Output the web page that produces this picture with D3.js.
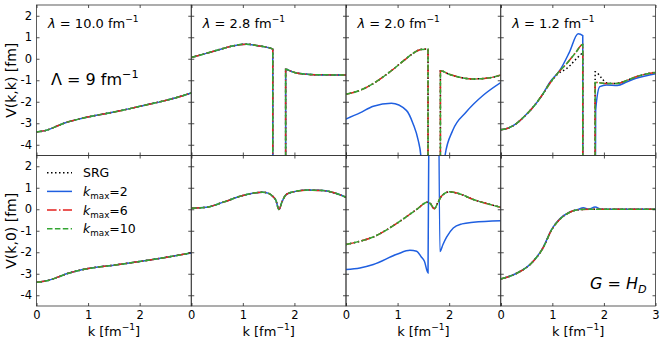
<!DOCTYPE html>
<html>
<head>
<meta charset="utf-8">
<script src="https://cdn.jsdelivr.net/npm/d3@7"></script>
<style>
  body { margin: 0; background: #fff; }
  svg text { font-family: "DejaVu Sans", sans-serif; fill: #000; }
</style>
</head>
<body>
<svg id="drawing_region"></svg>
<script>
// ---- data ----
const lambdaLabels = ['10.0', '2.8', '2.0', '1.2'];
const yTicks = [-4, -3, -2, -1, 0, 1, 2];
const xTicks = [0, 1, 2, 3];
const rowLabels = ['V(k,k) [fm]', 'V(k,0) [fm]'];
const legendKeys = ['srg', 'k2', 'k6', 'k10'];
const legendText = ['SRG', '2', '6', '10'];

// top row: diagonal V(k,k)
const vkk_l10 = [[0,-3.41],[0.2,-3.32],[0.36,-3.17],[0.52,-3.01],[0.8,-2.82],[1.16,-2.63],[1.5,-2.48],[1.81,-2.32],[2.1,-2.16],[2.45,-1.97],[2.75,-1.78],[3,-1.59]];

const vkk_l28_a = [[0,0.06],[0.29,0.25],[0.62,0.48],[0.85,0.62],[1.07,0.68],[1.26,0.62],[1.45,0.54],[1.58,0.45],[1.58,-9]];
const vkk_l28_b = [[1.83,-9],[1.83,-0.49],[1.95,-0.6],[2.1,-0.69],[2.4,-0.74],[2.7,-0.75],[3,-0.75]];

const vkk_l20_a = [[0,-1.65],[0.27,-1.47],[0.53,-1.15],[0.85,-0.61],[1.17,0.01],[1.3,0.25],[1.45,0.43],[1.59,0.45],[1.59,-9]];
const vkk_l20_b = [[1.83,-9],[1.83,-0.56],[2.0,-0.72],[2.2,-0.86],[2.46,-0.94],[2.75,-0.9],[3,-0.76]];
const vkk_l20_k2_a = [[0,-2.8],[0.27,-2.52],[0.53,-2.21],[0.88,-2.07],[1.17,-2.4],[1.3,-3.02],[1.4,-3.8],[1.45,-4.5],[1.5,-9]];
const vkk_l20_k2_b = [[1.88,-9],[1.92,-4.5],[2.07,-3.33],[2.33,-2.48],[2.66,-1.7],[3,-1.11]];

const vkk_l12_a = [[0,-3.3],[0.15,-3.22],[0.3,-3.02],[0.45,-2.7],[0.63,-2.24],[0.8,-1.7],[0.95,-1.15],[1.1,-0.68],[1.28,-0.22],[1.45,0.28],[1.59,0.66],[1.59,-9]];
const vkk_l12_b = [[1.83,-9],[1.83,-1.1],[2.05,-1.15],[2.26,-1.15],[2.45,-1.0],[2.61,-0.85],[2.8,-0.72],[3,-0.64]];
const vkk_l12_srg_a = [[0,-3.3],[0.15,-3.22],[0.3,-3.02],[0.45,-2.7],[0.63,-2.24],[0.8,-1.7],[0.95,-1.15],[1.1,-0.72],[1.28,-0.45],[1.35,-0.3],[1.5,0.08],[1.59,0.25],[1.59,-9]];
const vkk_l12_srg_b = [[1.83,-9],[1.83,-0.6],[1.95,-0.88],[2.05,-1.12],[2.2,-1.15],[2.45,-1.0],[2.61,-0.85],[2.8,-0.72],[3,-0.63]];
const vkk_l12_k2_a = [[0,-3.3],[0.15,-3.22],[0.3,-3.02],[0.45,-2.7],[0.63,-2.24],[0.8,-1.7],[0.95,-1.1],[1.15,-0.52],[1.33,0.3],[1.5,1.16],[1.59,1.08],[1.59,-9]];
const vkk_l12_k2_b = [[1.83,-9],[1.84,-2.4],[1.92,-1.3],[2.05,-1.22],[2.26,-1.24],[2.45,-1.07],[2.61,-0.92],[2.8,-0.8],[3,-0.7]];

// bottom row: half off-diagonal V(k,0)
const vk0_l10 = [[0,-3.39],[0.2,-3.33],[0.4,-3.17],[0.6,-2.99],[0.8,-2.86],[1.0,-2.76],[1.5,-2.6],[2.0,-2.43],[2.5,-2.24],[3,-2.03]];

const vk0_l28 = [[0,0.05],[0.29,0.09],[0.62,0.33],[1.0,0.64],[1.39,0.79],[1.5,0.74],[1.58,0.6],[1.64,0.42],[1.7,-0.01],[1.76,0.35],[1.84,0.68],[2.0,0.82],[2.26,0.89],[2.55,0.87],[2.8,0.74],[3,0.56]];

const vk0_l20 = [[0,-1.64],[0.2,-1.53],[0.53,-1.29],[1.0,-0.63],[1.37,-0.01],[1.58,0.33],[1.64,0.25],[1.71,0.02],[1.78,0.3],[1.85,0.6],[2.0,0.81],[2.2,0.72],[2.47,0.45],[2.75,0.25],[3,0.09]];
const vk0_l20_k2_a = [[0,-2.8],[0.27,-2.73],[0.53,-2.57],[1.0,-2.08],[1.24,-1.91],[1.37,-1.95],[1.46,-2.22],[1.52,-2.42],[1.59,-2.96],[1.62,9]];
const vk0_l20_k2_b = [[1.79,9],[1.82,-1.97],[1.88,-1.64],[1.95,-1.3],[2.08,-0.87],[2.25,-0.68],[2.47,-0.6],[3,-0.53]];

const vk0_l12 = [[0,-3.24],[0.3,-2.99],[0.63,-2.42],[0.82,-1.8],[0.99,-0.94],[1.14,-0.48],[1.34,-0.14],[1.5,-0.02],[1.8,0],[3,0]];
const vk0_l12_k2 = [[0,-3.24],[0.3,-2.99],[0.63,-2.42],[0.82,-1.78],[0.99,-0.92],[1.14,-0.46],[1.34,-0.13],[1.5,-0.01],[1.6,0.07],[1.7,0.0],[1.83,0.1],[1.95,0.0],[3,0]];

const panels = [
  { row:0, col:0, srg:[vkk_l10], k2:[vkk_l10], k6:[vkk_l10], k10:[vkk_l10] },
  { row:0, col:1, srg:[vkk_l28_a, vkk_l28_b], k2:[vkk_l28_a, vkk_l28_b], k6:[vkk_l28_a, vkk_l28_b], k10:[vkk_l28_a, vkk_l28_b] },
  { row:0, col:2, srg:[vkk_l20_a, vkk_l20_b], k2:[vkk_l20_k2_a, vkk_l20_k2_b], k6:[vkk_l20_a, vkk_l20_b], k10:[vkk_l20_a, vkk_l20_b] },
  { row:0, col:3, srg:[vkk_l12_srg_a, vkk_l12_srg_b], k2:[vkk_l12_k2_a, vkk_l12_k2_b], k6:[vkk_l12_a, vkk_l12_b], k10:[vkk_l12_a, vkk_l12_b] },
  { row:1, col:0, srg:[vk0_l10], k2:[vk0_l10], k6:[vk0_l10], k10:[vk0_l10] },
  { row:1, col:1, srg:[vk0_l28], k2:[vk0_l28], k6:[vk0_l28], k10:[vk0_l28] },
  { row:1, col:2, srg:[vk0_l20], k2:[vk0_l20_k2_a, vk0_l20_k2_b], k6:[vk0_l20], k10:[vk0_l20] },
  { row:1, col:3, srg:[vk0_l12], k2:[vk0_l12_k2], k6:[vk0_l12], k10:[vk0_l12] }
];

// ---- layout / style ----
const config = {
  width: 664, height: 344,
  left: 36.5, top: 5,
  panelW: 154.75, panelH: 150.5,
  xdomain: [0, 3], ydomain: [-4.5, 2.5]
};

const styles = {
  srg: { color: '#000000', dash: '1.5,2.5' },
  k2:  { color: '#1f5fe0', dash: null },
  k6:  { color: '#e3211c', dash: '9.6,2.4,1.5,2.4' },
  k10: { color: '#33a532', dash: '5.5,2.4' }
};

const svg = d3.select('#drawing_region')
    .attr('width', config.width)
    .attr('height', config.height);

// text with super/subscripts: parts = [[text, kind]], kind: '', 'i', 'sup', 'sub', 'isub'
function richText(sel, parts) {
    let shift = 0;
    parts.forEach(([t, kind]) => {
        const ts = sel.append('tspan').text(t);
        let target = 0;
        if (kind === 'sup') target = -0.42;
        if (kind === 'sub' || kind === 'isub') target = 0.25;
        ts.attr('dy', (target - shift) + 'em');
        if (kind === 'sup' || kind === 'sub' || kind === 'isub') {
            ts.attr('font-size', '70%').attr('dy', ((target - shift) / 0.7) + 'em');
        }
        if (kind === 'i' || kind === 'isub') ts.attr('font-style', 'italic');
        shift = target;
    });
    return sel;
}

panels.forEach((p, i) => {
    const x0 = config.left + p.col * config.panelW;
    const y0 = config.top + p.row * config.panelH;

    const xscale = d3.scaleLinear().domain(config.xdomain).range([x0, x0 + config.panelW]);
    const yscale = d3.scaleLinear().domain(config.ydomain).range([y0 + config.panelH, y0]);

    svg.append('clipPath').attr('id', 'clip' + i)
      .append('rect')
        .attr('x', x0).attr('y', y0)
        .attr('width', config.panelW).attr('height', config.panelH);

    const line = d3.line()
        .x(d => xscale(d[0]))
        .y(d => yscale(d[1]))
        .curve(d3.curveMonotoneX);

    const g = svg.append('g').attr('clip-path', `url(#clip${i})`);
    legendKeys.forEach(key => {
        p[key].forEach(branch => {
            g.append('path')
                .attr('d', line(branch))
                .attr('fill', 'none')
                .attr('stroke', styles[key].color)
                .attr('stroke-width', 1.5)
                .attr('stroke-dasharray', styles[key].dash);
        });
    });

    // axes, ticks pointing inward
    const isLeft = p.col === 0, isBottom = p.row === 1, isLast = p.col === 3;
    const yaxisL = d3.axisLeft(yscale).tickValues(yTicks).tickSize(-3).tickPadding(4.5)
        .tickFormat(d => isLeft ? String(d) : '');
    const yaxisR = d3.axisRight(yscale).tickValues(yTicks).tickSize(-3).tickFormat('');
    const xaxisB = d3.axisBottom(xscale).tickValues(xTicks).tickSize(-3).tickPadding(5)
        .tickFormat(d => (isBottom && (d < 3 || isLast)) ? String(d) : '');
    const xaxisT = d3.axisTop(xscale).tickValues(xTicks).tickSize(-3).tickFormat('');

    [[yaxisL, `translate(${x0},0)`], [yaxisR, `translate(${x0 + config.panelW},0)`],
     [xaxisB, `translate(0,${y0 + config.panelH})`], [xaxisT, `translate(0,${y0})`]]
      .forEach(([ax, tr]) => {
        const ag = svg.append('g').attr('transform', tr).call(ax);
        ag.select('.domain').remove();
        ag.selectAll('.tick line').attr('stroke', '#222').attr('stroke-width', 0.8);
        ag.selectAll('text').attr('font-size', '11.5px')
            .attr('font-family', '"DejaVu Sans", sans-serif').attr('fill', '#000');
    });

    svg.append('rect')
        .attr('x', x0).attr('y', y0)
        .attr('width', config.panelW).attr('height', config.panelH)
        .attr('fill', 'none').attr('stroke', '#333').attr('stroke-width', 0.8);

    if (p.row === 0) {
        richText(svg.append('text')
            .attr('x', x0 + 11.5).attr('y', 27.5).attr('font-size', '13px'),
            [['λ', 'i'], [' = ' + lambdaLabels[p.col] + ' fm', ''], ['−1', 'sup']]);
    }
    if (isBottom) {
        richText(svg.append('text')
            .attr('x', x0 + config.panelW / 2).attr('y', 335.5)
            .attr('text-anchor', 'middle').attr('font-size', '13px'),
            [['k [fm', ''], ['−1', 'sup'], [']', '']]);
    }
    if (isLeft) {
        svg.append('text')
            .attr('transform', `translate(15.5,${y0 + config.panelH / 2}) rotate(-90)`)
            .attr('text-anchor', 'middle').attr('font-size', '14px')
            .text(rowLabels[p.row]);
    }
});

// annotations
richText(svg.append('text').attr('x', 51).attr('y', 85).attr('font-size', '16px'),
    [['Λ = 9 fm', ''], ['−1', 'sup']]);
richText(svg.append('text').attr('x', 590).attr('y', 289).attr('font-size', '16px'),
    [['G', 'i'], [' = ', ''], ['H', 'i'], ['D', 'isub']]);

// legend
const legend = svg.append('g');
legendKeys.forEach((key, i) => {
    const ly = 172.7 + i * 18.7;
    legend.append('line')
        .attr('x1', 47).attr('x2', 72).attr('y1', ly).attr('y2', ly)
        .attr('stroke', styles[key].color).attr('stroke-width', 1.5)
        .attr('stroke-dasharray', styles[key].dash);
    const t = legend.append('text').attr('x', 83).attr('y', ly + 4.5).attr('font-size', '12.5px');
    if (key === 'srg') t.text(legendText[i]);
    else richText(t, [['k', 'i'], ['max', 'sub'], ['=' + legendText[i], '']]);
});
</script>
</body>
</html>
